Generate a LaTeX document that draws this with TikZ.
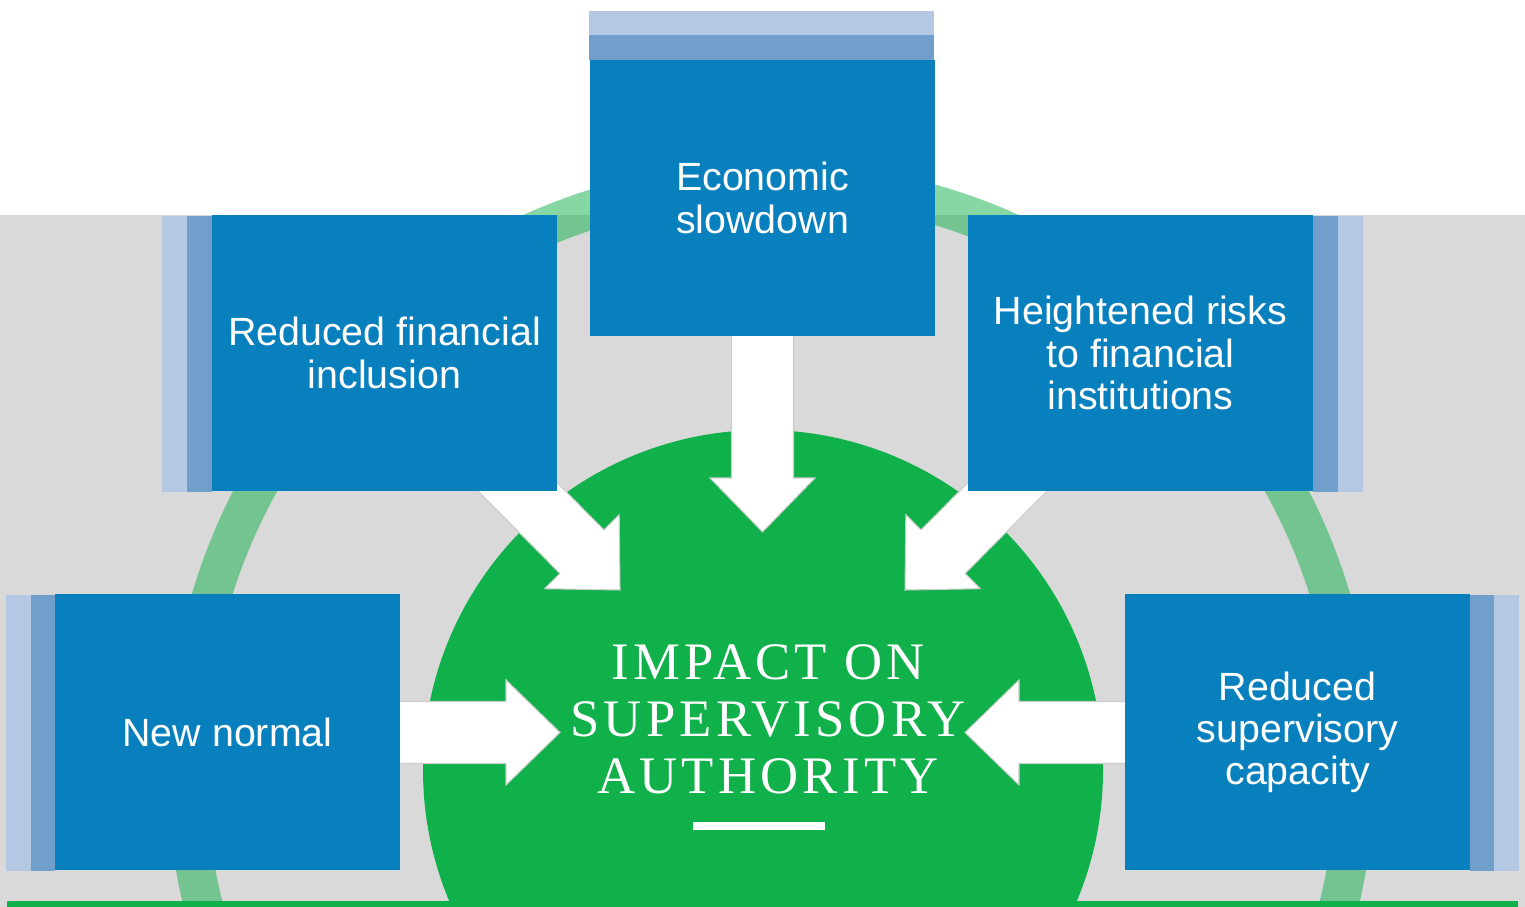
\documentclass[tikz,border=0pt]{standalone}
\usepackage{fontspec}
\setmainfont{Liberation Sans}
\newfontfamily\hubfont[LetterSpace = 8]{Liberation Serif}
\usetikzlibrary{calc}
\definecolor{boxblue}{RGB}{8,128,190}
\definecolor{midblue}{RGB}{112,159,204}
\definecolor{paleblue}{RGB}{180,200,228}
\definecolor{hubgreen}{RGB}{16,176,74}
\definecolor{backgray}{RGB}{217,217,217}
\pgfdeclarelayer{back}
\pgfdeclarelayer{mid}
\pgfsetlayers{back,mid,main}
\newcommand{\flowarrow}[2]{
  \path[flow] let \p1 = (#1), \p2 = (#2), \n1 = {atan2(\y2 - \y1, \x2 - \x1)} in
    [shift = {(\p2)}, rotate = \n1]
    (0, 0) -- (-0.54cm, 0.525cm) -- (-0.54cm, 0.31cm) -- (-2.2cm, 0.31cm)
    -- (-2.2cm, -0.31cm) -- (-0.54cm, -0.31cm) -- (-0.54cm, -0.525cm) -- cycle;}

\begin{document}
\begin{tikzpicture}[line join = round,
  box/.style = {fill = boxblue, text = white, align = center, inner sep = 0,
    minimum width = 3.45cm, minimum height = 2.76cm,
    font = \fontsize{11.2}{12}\selectfont},
  flow/.style = {fill = white, draw = black!20, line width = 0.3pt}]
  \clip (0, 0) rectangle (15.25cm, 9.07cm);

  \begin{pgfonlayer}{back}
    \fill[white] (0, 0) rectangle (15.25cm, 9.07cm);
    \fill[backgray] (0, 0) rectangle (15.25cm, 6.92cm);
    \draw[hubgreen, opacity = 0.5, line width = 0.39cm] (7.71cm, 1.41cm) circle (5.845cm);
    \node[circle, fill = hubgreen, minimum size = 6.8cm, inner sep = 0] (hub) at (7.63cm, 1.37cm) {};
    \fill[hubgreen] (0.07cm, 0) rectangle (15.18cm, 0.06cm);
  \end{pgfonlayer}

  \node[box] (econ) at (7.625cm, 7.09cm) {Economic\\slowdown};
  \fill[midblue] (econ.north west) ++(0, -0.01cm) rectangle ++(3.45cm, 0.26cm);
  \fill[paleblue] (econ.north west) ++(0, 0.24cm) rectangle ++(3.45cm, 0.24cm);

  \node[box] (incl) at (3.845cm, 5.54cm) {Reduced financial\\inclusion};
  \fill[midblue] (incl.south west) ++(0.01cm, 0) rectangle ++(-0.26cm, 2.76cm);
  \fill[paleblue] (incl.south west) ++(-0.24cm, 0) rectangle ++(-0.25cm, 2.76cm);

  \node[box] (risk) at (11.405cm, 5.54cm) {Heightened risks\\to financial\\institutions};
  \fill[midblue] (risk.south east) ++(-0.01cm, 0) rectangle ++(0.26cm, 2.76cm);
  \fill[paleblue] (risk.south east) ++(0.24cm, 0) rectangle ++(0.25cm, 2.76cm);

  \node[box] (norm) at (2.275cm, 1.745cm) {New normal};
  \fill[midblue] (norm.south west) ++(0.01cm, 0) rectangle ++(-0.25cm, 2.76cm);
  \fill[paleblue] (norm.south west) ++(-0.23cm, 0) rectangle ++(-0.25cm, 2.76cm);

  \node[box] (capa) at (12.975cm, 1.745cm) {Reduced\\supervisory\\capacity};
  \fill[midblue] (capa.south east) ++(-0.01cm, 0) rectangle ++(0.25cm, 2.76cm);
  \fill[paleblue] (capa.south east) ++(0.23cm, 0) rectangle ++(0.25cm, 2.76cm);

  \coordinate (econ-tip) at (7.625cm, 3.75cm);
  \coordinate (incl-tip) at (6.2cm, 3.17cm);
  \coordinate (risk-tip) at (9.05cm, 3.17cm);
  \coordinate (norm-tip) at (5.6cm, 1.745cm);
  \coordinate (capa-tip) at (9.65cm, 1.745cm);

  \begin{pgfonlayer}{mid}
    \flowarrow{econ}{econ-tip}
    \flowarrow{incl}{incl-tip}
    \flowarrow{risk}{risk-tip}
    \flowarrow{norm}{norm-tip}
    \flowarrow{capa}{capa-tip}
  \end{pgfonlayer}

  \node[text = white, align = center, inner sep = 0,
    font = \hubfont\fontsize{15}{16.2}\selectfont] (title) at (7.68cm, 1.88cm)
    {IMPACT ON\\SUPERVISORY\\AUTHORITY};
  \fill[white] (6.93cm, 0.77cm) rectangle (8.25cm, 0.85cm);
\end{tikzpicture}
\end{document}
